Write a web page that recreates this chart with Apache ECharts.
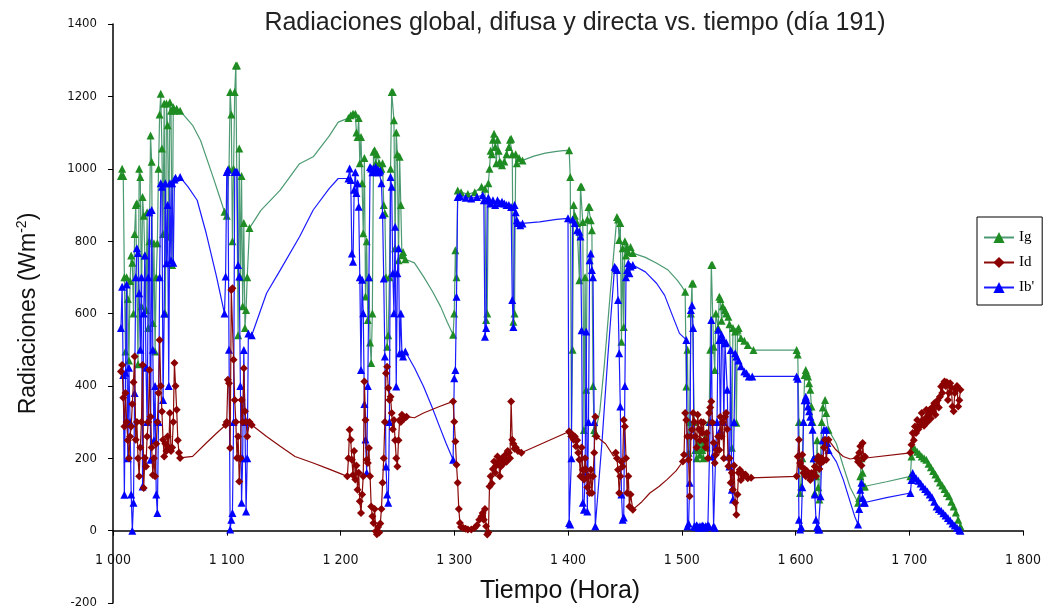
<!DOCTYPE html>
<html><head><meta charset="utf-8">
<script src="https://cdn.jsdelivr.net/npm/echarts/dist/echarts.min.js"></script>
<style>html,body{margin:0;padding:0;background:#fff}#c{width:1046px;height:612px}</style>
</head><body><div id="c"></div>
<script>
const chartTitle = 'Radiaciones global, difusa y directa vs. tiempo (día 191)';
const xTitle = 'Tiempo (Hora)';
const seriesNames = ['Ig', 'Id', "Ib'"];
const xTicks = [1000, 1100, 1200, 1300, 1400, 1500, 1600, 1700, 1800];
const yTicks = [-200, 0, 200, 400, 600, 800, 1000, 1200, 1400];

// Ig: measured segments (markers) and thin traces between them
const igSegments = [
 [[1007,980],[1008,1000],[1009,980],[1010,700],[1011,495],[1012,700],[1013,640],[1014,470],[1015,690],[1016,760],[1017,740],[1018,600],[1019,820],[1020,900],[1021,905],[1022,460],[1023,1000],[1024,977],[1025,620],[1026,922],[1027,870],[1028,760],[1029,610],[1030,880],[1031,560],[1032,800],[1033,1092],[1034,1019],[1035,574],[1036,794],[1037,495],[1038,700],[1039,794],[1040,1000],[1041,1150],[1042,1207],[1043,1056],[1044,820],[1045,1180],[1046,600],[1047,1180],[1048,1120],[1049,812],[1050,1184],[1051,1160],[1052,734],[1053,1170],[1054,1160],[1056,1166],[1059,1160]],
 [[1098,881],[1100,870],[1102,1000],[1103,1212],[1104,1150],[1105,800],[1106,1000],[1107,1212],[1108,1285],[1109,1285],[1110,540],[1111,1056],[1112,700],[1113,980],[1114,620],[1115,850],[1116,560],[1117,610],[1118,700],[1120,836]],
 [[1207,1140],[1209,1148],[1211,1152],[1213,1152],[1214,1100],[1215,1088],[1216,1140],[1217,1015],[1218,1088],[1219,960],[1220,822],[1221,1030],[1222,647],[1223,800],[1224,582],[1225,700],[1226,520],[1227,463],[1228,600],[1229,1047],[1230,1051],[1231,1015],[1232,1040],[1234,1015],[1236,1000],[1237,1015],[1238,900],[1239,877],[1240,700],[1241,508],[1242,540],[1243,700],[1244,1000],[1245,1212],[1246,1212],[1247,1134],[1248,780],[1249,1100],[1250,1040],[1251,747],[1252,1033],[1253,900],[1254,761],[1255,770],[1257,750]],
 [[1299,541],[1300,600],[1301,775],[1302,700],[1303,940],[1306,935],[1312,930],[1318,935],[1324,950],[1327,945],[1328,582],[1329,600],[1330,960],[1331,1000],[1332,1050],[1333,1040],[1334,1080],[1335,1097],[1336,1060],[1337,1015],[1338,1080],[1339,1050],[1340,1020],[1341,1015],[1342,1010],[1344,1020],[1346,1040],[1348,1060],[1349,1080],[1350,1083],[1351,1040],[1352,577],[1353,600],[1354,1040],[1355,1015],[1357,1030],[1360,1023]],
 [[1401,1051],[1402,977],[1403,270],[1404,500],[1405,900],[1406,870],[1408,850],[1410,692],[1411,950],[1412,950],[1413,853],[1414,278],[1415,700],[1416,389],[1417,860],[1418,894],[1419,894],[1420,858],[1421,830],[1422,400],[1423,278],[1424,270]],
 [[1443,867],[1444,860],[1445,803],[1446,850],[1447,522],[1448,780],[1449,563],[1450,800],[1451,760],[1452,784],[1453,770],[1455,784],[1457,767]],
 [[1503,660],[1504,398],[1505,500],[1506,215],[1507,300],[1508,600],[1509,683],[1510,683],[1511,300],[1512,223],[1513,200],[1514,240],[1515,223],[1516,210],[1517,250],[1518,223],[1519,200],[1520,240],[1521,260],[1522,230],[1524,300],[1525,500],[1526,734],[1527,734],[1528,508],[1529,444],[1530,600],[1532,560],[1533,646],[1534,640],[1535,580],[1536,620],[1538,610],[1539,600],[1541,591],[1542,570],[1544,229],[1545,560],[1547,550],[1548,298],[1549,555],[1550,560],[1552,532],[1555,525],[1558,513],[1563,499]],
 [[1601,499],[1602,487],[1603,300],[1604,104],[1605,122],[1606,200],[1607,300],[1608,430],[1609,444],[1610,435],[1611,426],[1612,407],[1613,389],[1614,343],[1615,300],[1616,200],[1617,104],[1618,150],[1619,250],[1620,120],[1621,86],[1622,200],[1623,300],[1624,340],[1626,361],[1627,325],[1629,279]],
 [[1655,77],[1656,90],[1657,150],[1658,200],[1659,160],[1660,122],[1661,122]],
 [[1701,150],[1702,205],[1703,232],[1705,225],[1707,218],[1709,212],[1711,205],[1713,200],[1715,196],[1717,185],[1719,175],[1721,165],[1723,155],[1725,145],[1727,133],[1729,125],[1731,115],[1733,104],[1735,95],[1737,80],[1739,67],[1741,50],[1743,30],[1745,12]]
];
const igGaps = [
 [[1070,1120],[1077,1078],[1088,977],[1094,920]],
 [[1130,885],[1147,941],[1164,1014],[1176,1033],[1190,1090],[1198,1129]],
 [[1265,740],[1273,702],[1281,660],[1288,619],[1294,575]],
 [[1370,1035],[1380,1043],[1390,1048],[1396,1050]],
 [[1428,330],[1432,460],[1437,650]],
 [[1468,755],[1478,739],[1488,720],[1496,692],[1500,675]],
 [],
 [[1636,240],[1642,178],[1648,120],[1652,95]],
 [[1680,135]]
];

// Id
const idSegments = [
 [[1007,440],[1008,458],[1009,367],[1010,288],[1011,380],[1012,300],[1013,250],[1014,200],[1015,260],[1016,288],[1017,350],[1018,410],[1019,481],[1020,251],[1021,300],[1022,200],[1023,150],[1024,230],[1025,300],[1026,458],[1027,118],[1028,201],[1029,177],[1030,260],[1031,300],[1032,444],[1033,315],[1034,230],[1035,154],[1036,200],[1037,150],[1038,240],[1039,300],[1040,380],[1041,527],[1042,400],[1043,329],[1044,251],[1045,205],[1046,240],[1047,220],[1048,260],[1049,230],[1050,325],[1051,220],[1052,230],[1053,300],[1054,463],[1055,400],[1056,334],[1057,250],[1058,215],[1059,201]],
 [[1099,292],[1100,300],[1101,417],[1102,407],[1103,228],[1104,665],[1105,670],[1106,472],[1107,361],[1108,300],[1109,201],[1110,260],[1111,136],[1112,200],[1113,361],[1114,300],[1115,449],[1116,330],[1117,300],[1118,260],[1120,300],[1122,292]],
 [[1206,150],[1207,200],[1208,279],[1209,251],[1210,196],[1211,154],[1212,220],[1213,141],[1214,180],[1215,113],[1216,160],[1217,81],[1218,49],[1219,100],[1220,150],[1221,412],[1222,306],[1223,196],[1224,187],[1225,228],[1226,150],[1227,67],[1228,40],[1229,21],[1230,60],[1231,-2],[1232,-10],[1233,10],[1234,-5],[1235,20],[1236,60],[1237,132],[1238,200],[1239,300],[1240,435],[1241,453],[1242,394],[1243,361],[1244,370],[1245,325],[1246,280],[1247,306],[1248,250],[1249,200],[1250,177],[1251,250],[1252,306],[1253,300],[1254,320],[1256,310],[1258,315]],
 [[1299,357],[1300,301],[1301,246],[1302,182],[1303,132],[1304,60],[1305,21],[1306,10],[1308,7],[1310,5],[1312,3],[1315,3],[1318,8],[1320,15],[1322,30],[1324,40],[1325,49],[1326,30],[1327,60],[1328,12],[1329,-11],[1330,-5],[1331,122],[1332,150],[1333,130],[1334,170],[1335,191],[1336,160],[1337,180],[1338,205],[1339,190],[1340,150],[1341,177],[1342,200],[1343,185],[1344,201],[1345,210],[1346,190],[1347,220],[1348,215],[1349,200],[1350,357],[1351,251],[1352,240],[1353,226],[1354,230],[1356,220],[1359,215]],
 [[1401,274],[1402,270],[1403,260],[1404,265],[1405,251],[1406,260],[1407,233],[1408,250],[1409,215],[1410,196],[1411,150],[1412,230],[1413,168],[1414,141],[1415,200],[1416,168],[1417,120],[1418,150],[1419,104],[1420,168],[1421,104],[1422,150],[1423,215],[1424,315],[1425,260]],
 [[1442,215],[1443,200],[1444,168],[1445,104],[1446,150],[1447,190],[1448,177],[1449,306],[1450,288],[1451,200],[1452,104],[1453,150],[1454,67],[1455,100],[1457,58]],
 [[1501,191],[1502,210],[1503,325],[1504,306],[1505,260],[1506,196],[1507,95],[1508,260],[1509,279],[1510,325],[1511,300],[1512,260],[1513,230],[1514,320],[1515,280],[1516,250],[1517,300],[1518,270],[1519,299],[1520,250],[1521,230],[1522,270],[1523,200],[1524,325],[1525,340],[1526,357],[1527,299],[1528,243],[1529,187],[1530,210],[1531,223],[1532,260],[1533,223],[1534,315],[1535,260],[1536,300],[1537,200],[1538,315],[1539,325],[1540,280],[1541,178],[1542,200],[1543,132],[1544,160],[1545,113],[1546,180],[1547,77],[1548,44],[1549,100],[1550,160],[1551,168],[1552,140],[1553,160],[1554,150],[1556,155],[1558,145],[1561,146]],
 [[1601,150],[1602,205],[1603,251],[1604,187],[1605,177],[1606,210],[1607,159],[1608,170],[1609,150],[1610,165],[1611,159],[1612,150],[1613,140],[1614,159],[1615,150],[1616,160],[1617,177],[1618,150],[1619,196],[1620,205],[1621,170],[1622,187],[1623,200],[1624,190],[1625,230],[1626,251],[1627,196],[1629,251]],
 [[1654,201],[1655,190],[1656,215],[1657,233],[1658,180],[1659,242],[1660,200],[1661,205]],
 [[1701,215],[1702,237],[1703,270],[1704,250],[1705,288],[1706,270],[1707,306],[1708,280],[1709,288],[1710,300],[1711,325],[1712,300],[1713,290],[1714,310],[1715,334],[1716,300],[1717,320],[1718,334],[1719,310],[1720,340],[1721,330],[1722,352],[1723,320],[1724,345],[1725,360],[1726,340],[1727,370],[1728,398],[1729,380],[1730,405],[1731,412],[1732,400],[1733,410],[1734,361],[1735,380],[1736,407],[1737,395],[1738,343],[1739,330],[1740,380],[1741,389],[1742,400],[1743,343],[1744,360],[1745,389]]
];
const idGaps = [
 [[1070,205],[1082,242],[1091,269]],
 [[1135,260],[1147,233],[1160,205],[1176,187],[1190,170]],
 [[1265,312],[1273,325],[1287,343]],
 [],
 [[1433,240],[1440,206]],
 [[1465,80],[1472,104],[1480,122],[1487,141],[1495,165]],
 [],
 [[1635,225],[1642,205],[1648,198]],
 []
];

// Ib'
const ibSegments = [
 [[1007,560],[1008,674],[1009,430],[1010,99],[1011,436],[1012,680],[1013,200],[1014,450],[1015,300],[1016,100],[1017,0],[1018,77],[1019,380],[1020,700],[1021,780],[1022,767],[1023,656],[1024,500],[1025,700],[1026,122],[1027,600],[1028,760],[1029,450],[1030,300],[1031,700],[1032,880],[1033,196],[1034,886],[1035,500],[1036,250],[1037,400],[1038,100],[1039,49],[1040,300],[1041,700],[1042,960],[1043,950],[1044,361],[1045,600],[1046,960],[1047,739],[1048,900],[1049,400],[1050,960],[1051,747],[1052,960],[1053,740],[1054,970],[1055,975],[1059,977]],
 [[1098,600],[1099,702],[1100,991],[1101,997],[1102,500],[1103,3],[1104,30],[1105,49],[1106,300],[1107,991],[1108,991],[1109,991],[1110,734],[1111,702],[1112,400],[1113,77],[1114,200],[1115,499],[1116,300],[1117,53],[1118,200],[1119,545],[1122,540]],
 [[1207,973],[1208,1001],[1209,969],[1210,766],[1211,743],[1212,942],[1213,990],[1214,933],[1215,960],[1216,895],[1217,700],[1218,444],[1219,693],[1220,601],[1221,350],[1222,252],[1223,160],[1224,400],[1225,700],[1226,1005],[1227,1001],[1228,990],[1229,1001],[1230,995],[1231,1005],[1232,990],[1233,997],[1234,990],[1235,995],[1236,960],[1237,873],[1238,697],[1239,481],[1240,177],[1241,100],[1242,77],[1243,300],[1244,977],[1245,950],[1246,711],[1247,601],[1248,840],[1249,398],[1250,711],[1251,780],[1252,490],[1253,600],[1254,490],[1255,481],[1257,495]],
 [[1299,196],[1300,421],[1301,444],[1302,646],[1303,922],[1305,925],[1310,920],[1315,918],[1320,922],[1325,927],[1326,913],[1327,536],[1328,560],[1329,913],[1330,920],[1332,904],[1334,913],[1336,900],[1338,913],[1340,905],[1342,909],[1344,904],[1346,900],[1348,900],[1350,894],[1351,637],[1352,563],[1353,900],[1354,880],[1355,858],[1356,850],[1358,844],[1360,849]],
 [[1400,863],[1401,21],[1402,17],[1403,200],[1404,860],[1406,850],[1408,830],[1410,826],[1411,813],[1412,554],[1413,77],[1414,58],[1415,150],[1416,550],[1417,53],[1418,300],[1419,747],[1420,766],[1421,720],[1422,700],[1423,300],[1424,12]],
 [[1441,729],[1442,725],[1443,720],[1444,637],[1445,490],[1446,343],[1447,100],[1448,30],[1449,36],[1450,400],[1451,700],[1452,720],[1453,739],[1454,711],[1455,730],[1457,734]],
 [[1504,527],[1505,12],[1506,20],[1507,132],[1508,610],[1509,623],[1510,560],[1511,12],[1512,10],[1513,15],[1514,12],[1515,8],[1516,12],[1517,10],[1518,14],[1519,12],[1520,8],[1521,12],[1522,10],[1523,15],[1524,12],[1525,300],[1526,582],[1527,205],[1528,12],[1529,8],[1530,232],[1531,300],[1532,555],[1533,527],[1534,279],[1535,541],[1536,530],[1537,300],[1538,518],[1539,520],[1540,389],[1541,205],[1542,177],[1543,499],[1544,113],[1545,86],[1546,300],[1547,490],[1548,481],[1550,470],[1552,454],[1555,440],[1557,435],[1559,426],[1562,426]],
 [[1601,426],[1602,420],[1603,30],[1604,3],[1605,10],[1606,120],[1607,300],[1608,360],[1609,370],[1610,360],[1611,343],[1612,330],[1613,315],[1614,300],[1615,279],[1616,200],[1617,100],[1618,30],[1619,10],[1620,3],[1621,3],[1622,95],[1623,200],[1624,250],[1625,279],[1627,279],[1628,242],[1629,223]],
 [[1655,17],[1656,60],[1657,113],[1658,132],[1659,90],[1660,77],[1661,77]],
 [[1701,104],[1702,140],[1703,159],[1704,150],[1706,145],[1708,138],[1710,130],[1712,122],[1714,115],[1716,108],[1718,100],[1720,92],[1722,80],[1724,67],[1726,60],[1728,55],[1730,48],[1732,42],[1734,35],[1736,28],[1738,20],[1740,14],[1742,8],[1744,2],[1745,0]]
];
const ibGaps = [
 [[1066,950],[1074,913],[1082,821],[1091,702]],
 [[1135,656],[1147,720],[1164,812],[1176,886],[1190,945],[1198,973]],
 [[1265,450],[1273,398],[1280,345],[1287,288],[1293,240]],
 [[1375,853],[1390,860]],
 [[1430,250],[1435,480]],
 [[1468,715],[1478,683],[1485,650],[1491,601],[1498,545]],
 [],
 [[1636,190],[1642,141],[1648,80],[1652,40]],
 [[1680,91]]
];

function build(segs, gaps) {
  const out = [];
  segs.forEach((s, i) => {
    s.forEach(p => out.push({ value: p }));
    if (i < gaps.length) gaps[i].forEach(p => out.push({ value: p, symbol: 'none' }));
  });
  return out;
}

const chart = echarts.init(document.getElementById('c'), null, { renderer: 'canvas' });
const numFont = "'Liberation Sans Narrow', 'DejaVu Sans Condensed', 'Liberation Sans', sans-serif";
const sansFont = "'Liberation Sans', Arial, sans-serif";
const xFmt = v => String(v).replace(/\B(?=(\d{3})+(?!\d))/g, ' ');
chart.setOption({
  animation: false,
  backgroundColor: '#ffffff',
  title: {
    text: chartTitle, left: 570, top: 6, textAlign: 'center',
    textStyle: { fontFamily: sansFont, fontSize: 25, fontWeight: 'normal', color: '#222' }
  },
  legend: {
    data: seriesNames, orient: 'vertical', left: 977, top: 217,
    padding: [13, 8, 10, 6], itemGap: 10, itemWidth: 30, itemHeight: 14,
    borderColor: '#000', borderWidth: 1, backgroundColor: '#fff',
    textStyle: { fontFamily: "'Liberation Serif', 'DejaVu Serif', serif", fontSize: 15, color: '#000' }
  },
  graphic: [{
    type: 'text', x: 560, y: 591,
    style: { text: xTitle, fontFamily: sansFont, fontSize: 25, fill: '#111', textAlign: 'center', textVerticalAlign: 'middle' }
  }],
  grid: { left: 113, right: 23, top: 24, bottom: 9, containLabel: false, outerBoundsMode: 'none' },
  xAxis: [
    {
      type: 'value', min: xTicks[0], max: xTicks[xTicks.length - 1], interval: 100,
      axisLine: { onZero: true, lineStyle: { color: '#000', width: 1.5 } },
      axisTick: { show: true, inside: false, length: 5, lineStyle: { color: '#000' } },
      axisLabel: { show: false },
      splitLine: { show: false }
    },
    {
      type: 'value', position: 'bottom', min: xTicks[0], max: xTicks[xTicks.length - 1], interval: 100,
      axisLine: { show: false, onZero: false },
      axisTick: { show: false },
      axisLabel: { margin: -50, fontFamily: numFont, fontSize: 14, color: '#111', formatter: xFmt },
      splitLine: { show: false }
    }
  ],
  yAxis: {
    type: 'value', min: yTicks[0], max: yTicks[yTicks.length - 1], interval: 200,
    name: '{a|Radiaciones (Wm}{s|-2}{a|)}', nameLocation: 'middle', nameGap: 70, nameRotate: 90,
    nameTextStyle: {
      rich: {
        a: { fontFamily: sansFont, fontSize: 23, color: '#111', lineHeight: 28 },
        s: { fontFamily: sansFont, fontSize: 14, color: '#111', verticalAlign: 'top', lineHeight: 28, padding: [0, 0, 12, 0] }
      }
    },
    axisLine: { show: true, onZero: false, lineStyle: { color: '#000', width: 1.5 } },
    axisTick: { show: true, inside: false, length: 5, lineStyle: { color: '#000' } },
    axisLabel: { margin: 16, fontFamily: numFont, fontSize: 13, color: '#111', formatter: v => String(v) },
    splitLine: { show: false }
  },
  series: [
    {
      name: seriesNames[0], type: 'line', xAxisIndex: 0, z: 2, data: build(igSegments, igGaps),
      symbol: 'triangle', symbolSize: 8, showAllSymbol: true,
      lineStyle: { color: '#4c9a72', width: 1.2 },
      itemStyle: { color: '#1e8c22', borderWidth: 0 }
    },
    {
      name: seriesNames[2], type: 'line', xAxisIndex: 0, z: 3, data: build(ibSegments, ibGaps),
      symbol: 'triangle', symbolSize: 8, showAllSymbol: true,
      lineStyle: { color: '#1a1aff', width: 1.2 },
      itemStyle: { color: '#0000ff', borderWidth: 0 }
    },
    {
      name: seriesNames[1], type: 'line', xAxisIndex: 0, z: 4, data: build(idSegments, idGaps),
      symbol: 'diamond', symbolSize: 8, showAllSymbol: true,
      lineStyle: { color: '#8b0a0a', width: 1.2 },
      itemStyle: { color: '#8b0000', borderWidth: 0 }
    }
  ]
});
</script>
</body></html>
